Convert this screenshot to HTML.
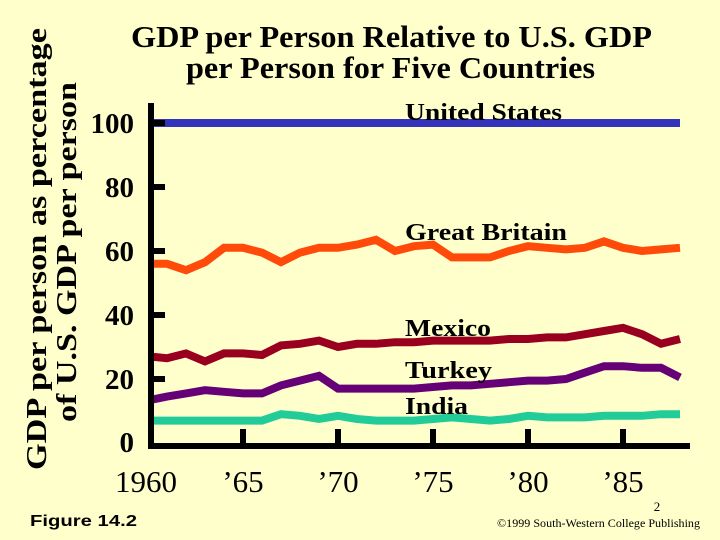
<!DOCTYPE html>
<html><head><meta charset="utf-8"><style>
body{margin:0;background:#FFFFCC;}
svg{display:block;font-family:"Liberation Serif",serif;}
</style></head><body>
<svg width="720" height="540" viewBox="0 0 720 540">
<rect width="720" height="540" fill="#FFFFCC"/>
<text x="131" y="47" textLength="521" lengthAdjust="spacingAndGlyphs" font-size="31" font-weight="bold">GDP per Person Relative to U.S. GDP</text>
<text x="186" y="78" textLength="409" lengthAdjust="spacingAndGlyphs" font-size="31" font-weight="bold">per Person for Five Countries</text>
<g transform="translate(46,250) rotate(-90)">
<text x="-220" y="0" textLength="442" lengthAdjust="spacingAndGlyphs" font-size="28" font-weight="bold">GDP per person as percentage</text>
<text x="-172" y="30" textLength="340" lengthAdjust="spacingAndGlyphs" font-size="28" font-weight="bold">of U.S. GDP per person</text>
</g>
<g id="plot"></g>
<text x="30" y="526" font-family="Liberation Sans, sans-serif" font-size="16" textLength="107" lengthAdjust="spacingAndGlyphs" font-weight="bold">Figure 14.2</text>
<text x="657" y="511" text-anchor="middle" font-size="13">2</text>
<text x="497" y="527" font-size="11.5" textLength="203" lengthAdjust="spacingAndGlyphs">©1999 South-Western College Publishing</text>
</svg>
<script>
const years=[];for(let y=1960;y<=1988;y++)years.push(y);
const usValues=[100,100,100,100,100,100,100,100,100,100,100,100,100,100,100,100,100,100,100,100,100,100,100,100,100,100,100,100,100];
const gbValues=[56,56,54,56.5,61,61,59.5,56.5,59.5,61,61,62,63.5,60,61.5,62,58,58,58,60,61.5,61,60.5,61,63,61,60,60.5,61];
const mexicoValues=[27,26.5,28,25.5,28,28,27.5,30.5,31,32,30,31,31,31.5,31.5,32,32,32,32,32.5,32.5,33,33,34,35,36,34,31,32.5];
const turkeyValues=[13.5,14.5,15.5,16.5,16,15.5,15.5,18,19.5,21,17,17,17,17,17,17.5,18,18,18.5,19,19.5,19.5,20,22,24,24,23.5,23.5,20.5];
const indiaValues=[7,7,7,7,7,7,7,9,8.5,7.5,8.5,7.5,7,7,7,7.5,8,7.5,7,7.5,8.5,8,8,8,8.5,8.5,8.5,9,9];
const yTicks=[0,20,40,60,80,100];
const xTickYears=[1960,1965,1970,1975,1980,1985];
const xTickLabels=["1960","’65","’70","’75","’80","’85"];
const series=[
 {name:"United States",vals:usValues,color:"#3333BB",lx:405,ly:120,w:157},
 {name:"Great Britain",vals:gbValues,color:"#FF4A0A",lx:405,ly:240,w:162},
 {name:"Mexico",vals:mexicoValues,color:"#99001F",lx:405,ly:336,w:86},
 {name:"Turkey",vals:turkeyValues,color:"#660077",lx:405,ly:378,w:87},
 {name:"India",vals:indiaValues,color:"#22CC99",lx:405,ly:414,w:63}];
const X=y=>148+19*(y-1960);
const Y=v=>443-3.2*v;
const NS="http://www.w3.org/2000/svg";
const g=document.getElementById('plot');
function mk(t,a){const e=document.createElementNS(NS,t);for(const k in a)e.setAttribute(k,a[k]);g.appendChild(e);return e;}
series.forEach(s=>{
 const p=mk('polyline',{points:s.vals.map((v,i)=>(X(years[i])+(i==0?3:0))+','+Y(v)).join(' '),fill:'none',stroke:s.color,'stroke-width':8,'stroke-linejoin':'miter'});
 
 
 const t=mk('text',{x:s.lx,y:s.ly,'font-size':24,'font-weight':'bold',textLength:s.w,lengthAdjust:'spacingAndGlyphs'});
 t.textContent=s.name;
 
 
});
const ax=mk('path',{d:`M151 103 V${Y(0)+3} H690`,fill:'none',stroke:'#000','stroke-width':6});


yTicks.forEach(v=>{
 if(v>0){const l=mk('line',{x1:151,x2:165,y1:Y(v),y2:Y(v),stroke:'#000','stroke-width':6});
 
 }
 const t=mk('text',{x:134,y:Y(v)+10+(v==0?-1:0),'text-anchor':'end','font-size':29,'font-weight':'bold'});
 t.textContent=v;
 
 
});
xTickYears.forEach((yr,i)=>{
 if(i>0){const l=mk('line',{x1:X(yr),x2:X(yr),y1:Y(0),y2:Y(0)-14,stroke:'#000','stroke-width':6});
 
 }
 const t=mk('text',{x:X(yr)-(i==0?2:0),y:492,'text-anchor':'middle','font-size':31});
 t.textContent=xTickLabels[i];
 
 
});
</script>
</body></html>
